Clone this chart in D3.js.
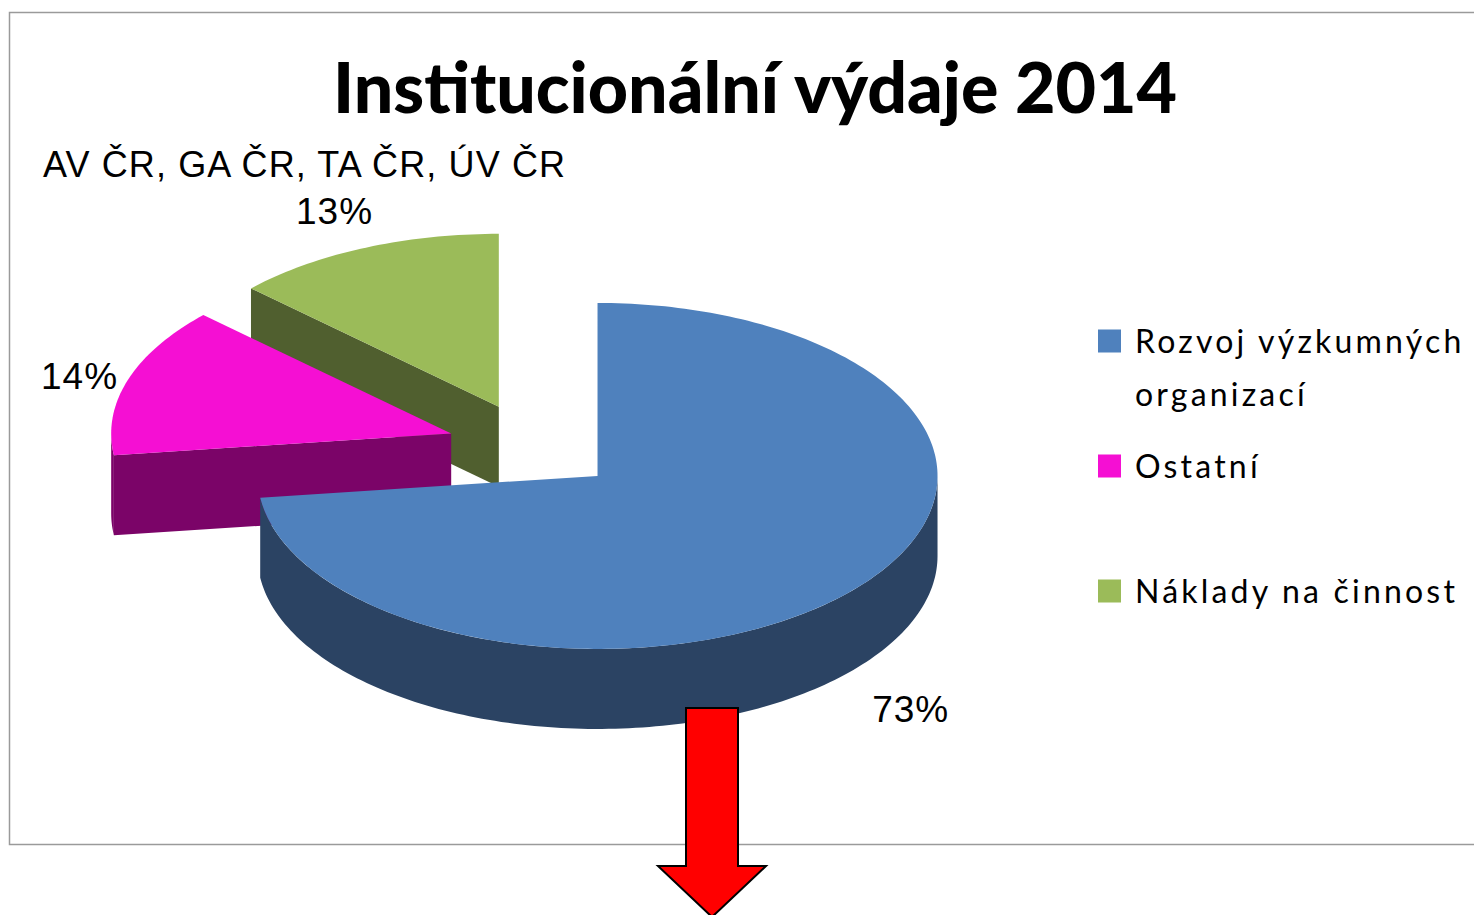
<!DOCTYPE html>
<html>
<head>
<meta charset="utf-8">
<script src="https://cdn.jsdelivr.net/npm/d3@7"></script>
<style>
  body { margin: 0; background: #fff; }
  svg { display: block; }
</style>
</head>
<body>
<svg id="chart"></svg>
<script>
// values
var categories = ["Rozvoj výzkumných organizací", "Ostatní", "Náklady na činnost"];
var shares = [73, 14, 13];
var legendLines = [["Rozvoj výzkumných", "organizací"], ["Ostatní"], ["Náklady na činnost"]];
var topColors = ["#4F81BD", "#F50FD3", "#9BBB59"];
var sideColors = ["#2B4363", "#7B0468", "#505F2F"];

var W = 1474, H = 915;

// pie geometry (3d ellipse)
var cx = 533, cy = 447, rx = 340, ry = 173, depth = 80;
var explode = 0.253;

var svg = d3.select("#chart").attr("width", W).attr("height", H);

// frame
svg.append("rect")
  .attr("x", 9.5).attr("y", 12.5)
  .attr("width", 1480).attr("height", 832)
  .attr("fill", "#fff")
  .attr("stroke", "#9a9a9a")
  .attr("stroke-width", 1.5);

svg.append("text")
  .attr("x", 755).attr("y", 113)
  .attr("text-anchor", "middle")
  .attr("font-family", "Lato")
  .attr("font-weight", 900)
  .attr("font-size", 70)
  .attr("textLength", 844)
  .attr("lengthAdjust", "spacingAndGlyphs")
  .text("Institucionální výdaje 2014");

svg.append("text")
  .attr("x", 43).attr("y", 177)
  .attr("font-family", "Liberation Sans")
  .attr("font-size", 36)
  .attr("textLength", 522)
  .text("AV ČR, GA ČR, TA ČR, ÚV ČR");

var pie = d3.pie().sort(null).value(function (d) { return d; });
var arcs = pie(shares);

function pt(ox, oy, a, dy) {
  return [ox + rx * Math.sin(a), oy - ry * Math.cos(a) + (dy || 0)];
}
function sample(a0, a1) {
  var n = Math.max(2, Math.ceil(Math.abs(a1 - a0) / 0.02));
  return d3.range(n + 1).map(function (i) { return a0 + (a1 - a0) * i / n; });
}
var line = d3.line();

arcs.forEach(function (d, i) {
  var mid = (d.startAngle + d.endAngle) / 2;
  d.i = i;
  d.mid = mid;
  d.ox = cx + explode * rx * Math.sin(mid);
  d.oy = cy - explode * ry * Math.cos(mid);
});

// draw from back to front
var order = arcs.slice().sort(function (a, b) { return Math.cos(b.mid) - Math.cos(a.mid); });

var g = svg.append("g");
order.forEach(function (d) {
  var sg = g.append("g");
  var a0 = d.startAngle, a1 = d.endAngle;
  // radial faces
  [[a0, Math.sin(a0) < -1e-6], [a1, Math.sin(a1) > 1e-6]].forEach(function (f) {
    if (!f[1]) return;
    var p = pt(d.ox, d.oy, f[0]);
    var poly = [[d.ox, d.oy], p, [p[0], p[1] + depth], [d.ox, d.oy + depth]];
    sg.append("path").attr("d", line(poly) + "Z").attr("fill", sideColors[d.i]);
  });
  // outer wall, front half only
  var w0 = Math.max(a0, Math.PI / 2), w1 = Math.min(a1, Math.PI * 1.5);
  if (w1 > w0) {
    var angs = sample(w0, w1);
    var topPts = angs.map(function (a) { return pt(d.ox, d.oy, a); });
    var botPts = angs.slice().reverse().map(function (a) { return pt(d.ox, d.oy, a, depth); });
    sg.append("path").attr("d", line(topPts.concat(botPts)) + "Z").attr("fill", sideColors[d.i]);
  }
  // top face
  var face = [[d.ox, d.oy]].concat(sample(a0, a1).map(function (a) { return pt(d.ox, d.oy, a); }));
  sg.append("path").attr("d", line(face) + "Z").attr("fill", topColors[d.i]);
});

// percentage labels, outside the rim
var fmt = function (v) { return v + "%"; };
arcs.forEach(function (d) {
  var front = Math.cos(d.mid) < 0;
  var ux = rx * Math.sin(d.mid), uy = -ry * Math.cos(d.mid);
  var len = Math.sqrt(ux * ux + uy * uy);
  var gap = 56;
  var x = d.ox + ux + gap * ux / len + 7;
  var y = d.oy + uy + gap * uy / len + (front ? depth * 1.2 : 6);
  svg.append("text")
    .attr("x", x).attr("y", y)
    .attr("text-anchor", "middle")
    .attr("dominant-baseline", "central")
    .attr("font-family", "Liberation Sans")
    .attr("font-size", 37)
    .attr("letter-spacing", 1)
    .text(fmt(d.data));
});

// legend
var ly = d3.scaleLinear().domain([0, 1]).range([341, 466]);
var leg = svg.append("g").selectAll("g").data(categories).enter().append("g")
  .attr("transform", function (d, i) { return "translate(1098," + ly(i) + ")"; });
leg.append("rect")
  .attr("x", 0).attr("y", -11.5).attr("width", 23).attr("height", 23)
  .attr("fill", function (d, i) { return topColors[i]; });
leg.append("text")
  .attr("font-family", "Lato")
  .attr("font-size", 32)
  .attr("letter-spacing", 3.2)
  .each(function (d, i) {
    var t = d3.select(this);
    legendLines[i].forEach(function (s, j) {
      t.append("tspan").attr("x", 37).attr("y", 12 + j * 53).text(s);
    });
  });

// red arrow annotation
var arrow = [[686, 708], [738, 708], [738, 866], [766, 866], [712, 917], [658, 866], [686, 866]];
svg.append("path")
  .attr("d", line(arrow) + "Z")
  .attr("fill", "#FF0000")
  .attr("stroke", "#000")
  .attr("stroke-width", 2)
  .attr("stroke-linejoin", "miter");
</script>
</body>
</html>
